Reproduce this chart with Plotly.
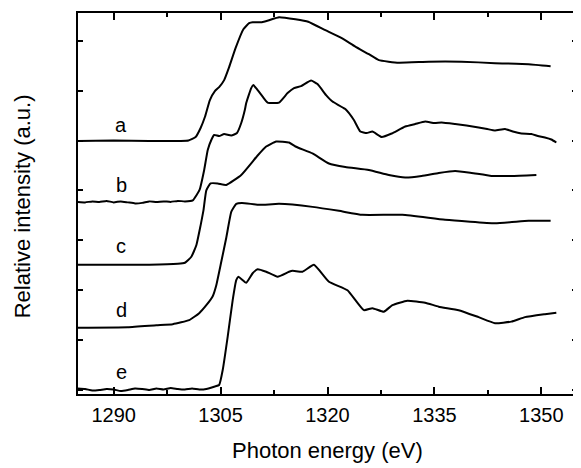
import plotly.graph_objects as go

# ---- data (photon energy in eV, relative intensity in a.u., curves offset) ----
a_E = [1285, 1290, 1295, 1300.5, 1301.5, 1302.2, 1302.8, 1303.5, 1304.2, 1304.8, 1305.5, 1306.2,
       1307.1, 1308.2, 1309.0, 1309.5, 1310.8, 1311.8, 1313.2, 1315.5, 1317.3, 1319.7, 1322.0,
       1323.9, 1325.8, 1327.2, 1330.0, 1334.2, 1338.8, 1343.5, 1348.2, 1351.3]
a_I = [4.99, 5.00, 4.99, 5.00, 5.07, 5.25, 5.47, 5.81, 5.99, 6.07, 6.21, 6.47,
       6.85, 7.23, 7.35, 7.37, 7.37, 7.41, 7.47, 7.43, 7.38, 7.21, 7.05,
       6.88, 6.73, 6.61, 6.56, 6.58, 6.58, 6.55, 6.53, 6.49]

b_E = [1285, 1286, 1287, 1288, 1289, 1290, 1291, 1292, 1293, 1294, 1295, 1296, 1297, 1298,
       1299, 1300, 1301.1, 1302.05, 1302.7, 1303.2, 1303.7, 1304.1, 1304.8, 1305.5, 1306.5,
       1307.3, 1307.9, 1308.4, 1308.6, 1309.3, 1309.6, 1310.2, 1310.9,
       1311.6, 1313.2, 1314.4, 1315.3, 1316.3, 1317.7, 1318.6, 1319.8, 1320.7, 1322.5, 1323.7,
       1324.6, 1325.5, 1326.3, 1327.6, 1329.0, 1330.9, 1332.3, 1333.7, 1335.0, 1336.0, 1337.9,
       1339.5, 1341.2, 1342.4, 1343.5, 1344.9, 1346.0, 1347.2, 1348.6, 1349.5, 1350.5, 1351.4,
       1352.1]
b_I = [3.77, 3.76, 3.78, 3.77, 3.79, 3.76, 3.78, 3.76, 3.74, 3.75, 3.78, 3.77, 3.78, 3.77,
       3.79, 3.78, 3.80, 4.01, 4.41, 4.81, 5.01, 5.11, 5.09, 5.13, 5.10,
       5.15, 5.35, 5.61, 5.75, 6.05, 6.11, 6.01, 5.88,
       5.76, 5.76, 5.95, 6.05, 6.09, 6.20, 6.13, 5.91, 5.78, 5.63, 5.41,
       5.18, 5.15, 5.18, 5.07, 5.14, 5.28, 5.33, 5.38, 5.35, 5.36, 5.33,
       5.30, 5.26, 5.23, 5.20, 5.23, 5.18, 5.14, 5.13, 5.09, 5.06, 5.02,
       4.96]

c_E = [1285, 1295, 1299.0, 1300.0, 1300.9, 1301.6, 1302.2, 1302.6, 1303.0, 1303.6, 1304.6,
       1305.8, 1307.9, 1310.2, 1311.4, 1312.8, 1314.6, 1315.5, 1317.9, 1320.2, 1322.5,
       1325.8, 1328.6, 1330.9, 1333.2, 1335.6, 1337.9, 1340.2, 1343.0, 1345.8, 1349.3]
c_I = [2.51, 2.51, 2.53, 2.55, 2.67, 2.90, 3.30, 3.60, 4.00, 4.14, 4.14,
       4.11, 4.31, 4.70, 4.88, 4.98, 4.96, 4.88, 4.74, 4.54, 4.47,
       4.41, 4.31, 4.26, 4.29, 4.35, 4.39, 4.35, 4.29, 4.29, 4.31]

d_E = [1285, 1292, 1296, 1298.3, 1300.6, 1302.0, 1303.0, 1303.9, 1304.4, 1305.1, 1305.8,
       1306.5, 1307.2, 1308.0, 1310.4, 1313.2, 1317.9, 1321.6, 1324.9, 1330.5, 1336.5,
       1343.5, 1348.2, 1351.3]
d_I = [1.25, 1.26, 1.30, 1.32, 1.40, 1.54, 1.70, 1.88, 2.10, 2.57, 3.05,
       3.57, 3.73, 3.75, 3.71, 3.73, 3.67, 3.59, 3.51, 3.51, 3.41,
       3.34, 3.39, 3.39]

e_E = [1285, 1286, 1287, 1288, 1289, 1290, 1291, 1292, 1293, 1294, 1295, 1296, 1297, 1298,
       1299, 1300, 1301, 1302, 1303, 1304.2, 1304.8, 1305.3, 1306.0, 1306.7, 1307.2, 1307.5,
       1308.6, 1309.5, 1310.2, 1311.4, 1313.0, 1314.6, 1315.1, 1316.5, 1318.1, 1320.2,
       1322.8, 1325.1, 1326.3, 1327.9, 1329.1, 1331.2, 1333.7, 1335.6, 1338.4, 1341.2,
       1343.5, 1345.8, 1347.7, 1350.5, 1352.1]
e_I = [0.03, 0.02, -0.01, 0.00, 0.02, 0.01, -0.02, 0.00, 0.03, 0.02, 0.00, 0.03, 0.01, 0.04,
       0.02, 0.01, 0.03, 0.01, 0.02, 0.07, 0.10, 0.40, 1.07, 1.80, 2.20, 2.27,
       2.15, 2.34, 2.42, 2.37, 2.27, 2.37, 2.39, 2.37, 2.51, 2.17,
       2.00, 1.60, 1.64, 1.57, 1.70, 1.79, 1.75, 1.67, 1.60, 1.46,
       1.34, 1.37, 1.46, 1.52, 1.55]

labels = ["a", "b", "c", "d", "e"]
label_y = [5.31, 4.11, 2.89, 1.60, 0.37]
label_x = 1291.1

x_ticks = [1290, 1305, 1320, 1335, 1350]

series = [(a_E, a_I), (b_E, b_I), (c_E, c_I), (d_E, d_I), (e_E, e_I)]

fig = go.Figure()
for (xs, ys), name in zip(series, labels):
    fig.add_trace(go.Scatter(x=xs, y=ys, mode="lines", name=name,
                             line=dict(color="black", width=2, shape="spline", smoothing=0.4),
                             showlegend=False))

for lab, ly in zip(labels, label_y):
    fig.add_annotation(x=label_x, y=ly, text=lab, showarrow=False,
                       font=dict(size=20, color="black"), xanchor="center", yanchor="middle")

fig.add_annotation(xref="paper", yref="paper", x=0.499, y=-0.147, text="Photon energy (eV)",
                   showarrow=False, font=dict(size=22, color="black"),
                   xanchor="center", yanchor="middle")
fig.add_annotation(xref="paper", yref="paper", x=-0.112, y=0.493, text="Relative intensity (a.u.)",
                   showarrow=False, textangle=-90, font=dict(size=22, color="black"),
                   xanchor="center", yanchor="middle")

# page body has an 8px margin, so the figure is shrunk and margins shifted to compensate
fig.update_layout(
    width=573, height=460,
    margin=dict(l=70, r=2, t=5, b=74),
    paper_bgcolor="white", plot_bgcolor="white",
    font=dict(family="Arial, Liberation Sans, sans-serif", color="black"),
    xaxis=dict(range=[1285, 1355], tickvals=x_ticks, ticks="inside", ticklen=7, tickwidth=1.5,
               tickcolor="black", showline=True, linecolor="black", linewidth=1.5,
               mirror="allticks", showgrid=False, zeroline=False,
               tickfont=dict(size=20, color="black"), ticklabelstandoff=2,
               minor=dict(dtick=7.5, tick0=1290, ticks="inside", ticklen=4, tickwidth=1.5,
                          tickcolor="black", showgrid=False)),
    yaxis=dict(range=[-0.08, 7.555], tick0=0, dtick=1, ticks="inside", ticklen=5, tickwidth=1.5,
               tickcolor="black", showline=True, linecolor="black", linewidth=1.5,
               mirror="allticks", showgrid=False, zeroline=False, showticklabels=False),
)

fig.write_html("out.html")
